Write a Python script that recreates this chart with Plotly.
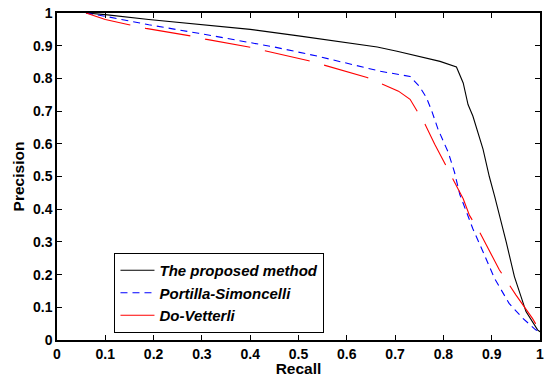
import plotly.graph_objects as go

# Data
proposed_recall = [0.06, 0.1, 0.19, 0.293, 0.4, 0.5, 0.6, 0.663, 0.704, 0.793, 0.827, 0.841, 0.851,
                   0.861, 0.882, 0.895, 0.906, 0.913, 0.93, 0.947, 0.971, 0.995, 1.0]
proposed_precision = [1.0, 0.995, 0.98, 0.966, 0.95, 0.93, 0.91, 0.896, 0.883, 0.852, 0.835, 0.786, 0.72,
                      0.685, 0.584, 0.50, 0.44, 0.401, 0.30, 0.194, 0.087, 0.031, 0.025]

ps_recall = [0.06, 0.1, 0.19, 0.293, 0.45, 0.539, 0.669, 0.731, 0.75, 0.765, 0.776, 0.789, 0.810,
             0.823, 0.834, 0.861, 0.882, 0.906, 0.936, 0.964, 0.991, 1.0]
ps_precision = [1.0, 0.99, 0.964, 0.938, 0.896, 0.868, 0.822, 0.806, 0.776, 0.741, 0.70, 0.644, 0.574,
                0.513, 0.445, 0.34, 0.27, 0.188, 0.112, 0.067, 0.031, 0.025]

dv_recall = [0.06, 0.1, 0.149, 0.184, 0.276, 0.307, 0.4, 0.519, 0.642, 0.707, 0.731, 0.745, 0.762,
             0.782, 0.803, 0.82, 0.841, 0.854, 0.875, 0.916, 0.95, 0.984, 1.0]
dv_precision = [1.0, 0.98, 0.964, 0.953, 0.93, 0.92, 0.895, 0.855, 0.803, 0.761, 0.736, 0.70, 0.66,
                0.599, 0.538, 0.492, 0.432, 0.381, 0.33, 0.214, 0.138, 0.067, 0.027]

tick_vals = [0, 0.1, 0.2, 0.3, 0.4, 0.5, 0.6, 0.7, 0.8, 0.9, 1]
tick_text = ["0", "0.1", "0.2", "0.3", "0.4", "0.5", "0.6", "0.7", "0.8", "0.9", "1"]

FONT = "Liberation Sans, Arial, Helvetica, sans-serif"

fig = go.Figure()
fig.add_trace(go.Scatter(x=proposed_recall, y=proposed_precision, mode="lines",
                         name="The proposed method",
                         line=dict(color="black", width=1.1)))
fig.add_trace(go.Scatter(x=ps_recall, y=ps_precision, mode="lines",
                         name="Portilla-Simoncelli",
                         line=dict(color="#0000ff", width=1.1, dash="7px,5px")))
fig.add_trace(go.Scatter(x=dv_recall, y=dv_precision, mode="lines",
                         name="Do-Vetterli",
                         line=dict(color="#ff0000", width=1.1, dash="46px,15px")))

axis_common = dict(
    range=[0, 1], tickvals=tick_vals, ticktext=tick_text,
    ticks="inside", ticklen=5, tickwidth=1, tickcolor="black",
    showline=True, linecolor="black", linewidth=1.5, mirror="ticks",
    showgrid=False, zeroline=False,
    tickfont=dict(family=FONT, size=14, color="black", weight="bold"),
)

fig.update_layout(
    width=547, height=377,
    margin=dict(l=57, r=3, t=13, b=35),
    paper_bgcolor="white", plot_bgcolor="white",
    xaxis=dict(**axis_common,
               title=dict(text="Recall", standoff=2,
                          font=dict(family=FONT, size=15.5, color="black", weight="bold"))),
    yaxis=dict(**axis_common,
               title=dict(text="Precision", standoff=5,
                          font=dict(family=FONT, size=15.5, color="black", weight="bold"))),
    legend=dict(x=0.119, y=0.266, xanchor="left", yanchor="top",
                bgcolor="white", bordercolor="black", borderwidth=1,
                font=dict(family=FONT, size=15, color="black", weight="bold", style="italic"),
                itemwidth=34, tracegroupgap=0),
    showlegend=True,
)

fig.write_html("out.html")
